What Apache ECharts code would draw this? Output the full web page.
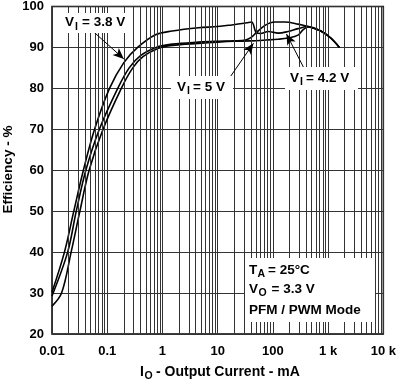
<!DOCTYPE html>
<html>
<head>
<meta charset="utf-8">
<script src="https://cdn.jsdelivr.net/npm/echarts@6/dist/echarts.min.js"></script>
<style>
html,body{margin:0;padding:0;background:#fff;}
#chart{width:399px;height:383px;}
</style>
</head>
<body>
<div id="chart"></div>
<script>
// ---- Data ----
const xTickLabels = ['0.01', '0.1', '1', '10', '100', '1 k', '10 k'];
const yTicks = [20, 30, 40, 50, 60, 70, 80, 90, 100];
const minorMultipliers = [2, 3, 4, 5, 6, 7, 8, 9];
const decadeStarts = [0.01, 0.1, 1, 10, 100, 1000];

// V_I = 3.8 V
const current38 = [0.01, 0.0168, 0.0248, 0.037, 0.059, 0.11, 0.2, 0.355, 0.75, 1.5, 4.5, 10, 18, 30, 41, 50, 60, 82, 125, 188, 285, 431, 737, 1117, 1600];
const eff38     = [30.2, 40,     50,     60,    70,    80,   86.3, 90,   93.1, 94.0, 94.8, 95.1, 95.5, 95.9, 96.2, 93.6, 93.4, 93.9, 93.5, 93.9, 94.6, 95.1, 94.0, 92.3, 90.0];

// V_I = 4.2 V
const current42 = [0.01, 0.0192, 0.0275, 0.041, 0.072, 0.155, 0.25, 0.4, 0.77, 1.5, 4.5, 10, 20, 32, 41, 50, 72, 109, 164, 285, 431, 737, 1117, 1600];
const eff42     = [29.3, 40,     50,     60,    70,    80,    85,   88,  90,   90.8, 91.3, 91.5, 91.6, 91.8, 92.5, 93.6, 95.4, 96.2, 96.2, 95.7, 95.1, 94.0, 92.3, 90.0];

// V_I = 5 V
const current50 = [0.01, 0.0149, 0.0222, 0.032, 0.047, 0.084, 0.18, 0.29, 0.45, 0.85, 1.5, 4.5, 10, 20, 40, 75, 125, 188, 285, 350, 431, 737, 1117, 1600];
const eff50     = [26.8, 30,     40,     50,    60,    70,    80,   85,   87.8, 89.8, 90.5, 91.0, 91.3, 91.5, 91.6, 91.8, 92.0, 92.3, 93.0, 94.3, 95.0, 94.0, 92.3, 90.0];

// ---- Build ----
const pairs = (xs, ys) => xs.map((x, i) => [x, ys[i]]);
const minorGridValues = [];
decadeStarts.forEach(d => minorMultipliers.forEach(m => minorGridValues.push(+(d * m).toPrecision(3))));

const FONT = '"Liberation Sans", Arial, Helvetica, sans-serif';
const chart = echarts.init(document.getElementById('chart'), null, {renderer: 'canvas'});

const lineStyleCurve = {color: '#000', width: 1.6};
const arrowLine = (from, to) => [
  {coord: from, symbol: 'none'},
  {coord: to, symbol: 'arrow'}
];

function txt(x, y, text, size, align) {
  return {type: 'text', x: x, y: y, z: 101,
    style: {text: text, fill: '#000', font: 'bold ' + size + 'px ' + FONT,
      textAlign: align || 'left', textVerticalAlign: 'middle'}};
}
function box(x, y, w, h) {
  return {type: 'rect', z: 100, shape: {x: x, y: y, width: w, height: h},
    style: {fill: '#fff', stroke: null}};
}
const M = 13.5, S = 10.5, SUBDY = 4;

const graphics = [
  // V_I = 3.8 V
  box(62, 13, 68, 20),
  txt(65, 22.7, 'V', M), txt(75, 22.7 + SUBDY, 'I', S), txt(82, 22.7, '= 3.8 V', M),
  // V_I = 5 V
  box(171, 76, 62, 23),
  txt(177, 87.3, 'V', M), txt(187, 87.3 + SUBDY, 'I', S), txt(193, 87.3, '= 5 V', M),
  // V_I = 4.2 V
  box(285, 67, 73, 23),
  txt(290, 78.3, 'V', M), txt(300, 78.3 + SUBDY, 'I', S), txt(306, 78.3, '= 4.2 V', M),
  // Conditions box
  box(245, 258, 130, 64),
  txt(249, 270, 'T', M), txt(257.5, 270 + SUBDY, 'A', S), txt(268, 270, '= 25°C', M),
  txt(249, 289, 'V', M), txt(258.5, 289 + SUBDY, 'O', S), txt(271.5, 289, '= 3.3 V', M),
  txt(249, 310, 'PFM / PWM Mode', M),
  // X axis title
  txt(140, 372.5, 'I', 14), txt(144.5, 372.5 + 3.5, 'O', 10.5), txt(156, 372.5, '- Output Current - mA', 14),
  // Y axis title
  {type: 'text', x: 8, y: 169.5, rotation: Math.PI / 2, z: 101,
    style: {text: 'Efficiency - %', fill: '#000', font: 'bold 13.5px ' + FONT,
      textAlign: 'center', textVerticalAlign: 'middle'}}
];

const curveSeries = (name, xs, ys, arrow) => ({
  name: name, type: 'line', z: 3, data: pairs(xs, ys),
  showSymbol: false, smooth: 0.35, lineStyle: lineStyleCurve,
  markLine: {
    silent: true, label: {show: false}, symbolSize: [7, 11],
    lineStyle: {color: '#000', width: 1, type: 'solid'},
    data: [arrow]
  }
});

const option = {
  animation: false,
  backgroundColor: '#fff',
  grid: {left: 52, right: 13, top: 5, bottom: 49, show: true, borderColor: '#000', borderWidth: 1.5, backgroundColor: 'transparent'},
  xAxis: {
    type: 'log', logBase: 10, min: 0.01, max: 10000, splitNumber: 6,
    axisLine: {show: false}, axisTick: {show: false},
    splitLine: {show: true, lineStyle: {color: '#333', width: 1}},
    axisLabel: {
      margin: 11, color: '#000', fontWeight: 'bold', fontSize: 13, fontFamily: FONT,
      formatter: v => xTickLabels[Math.round(Math.log10(v)) + 2]
    }
  },
  yAxis: {
    type: 'value', min: yTicks[0], max: yTicks[yTicks.length - 1], interval: 10,
    axisLine: {show: false}, axisTick: {show: false},
    splitLine: {show: true, lineStyle: {color: '#333', width: 1}},
    axisLabel: {margin: 8, color: '#000', fontWeight: 'bold', fontSize: 13, fontFamily: FONT}
  },
  graphic: graphics,
  series: [
    {
      name: 'minorGrid', type: 'line', z: 1, data: [[0.01, 20]], showSymbol: false,
      lineStyle: {opacity: 0}, silent: true,
      markLine: {
        silent: true, symbol: ['none', 'none'], label: {show: false},
        lineStyle: {color: '#333', width: 1, type: 'solid'},
        emphasis: {disabled: true},
        data: minorGridValues.map(v => ({xAxis: v}))
      }
    },
    curveSeries('VI = 3.8 V', current38, eff38, arrowLine([0.0517, 94.3], [0.2, 87.2])),
    curveSeries('VI = 4.2 V', current42, eff42, arrowLine([376, 84.6], [176, 93.3])),
    curveSeries('VI = 5 V', current50, eff50, arrowLine([15.7, 82.2], [44.4, 91.0]))
  ]
};
chart.setOption(option);
</script>
</body>
</html>
